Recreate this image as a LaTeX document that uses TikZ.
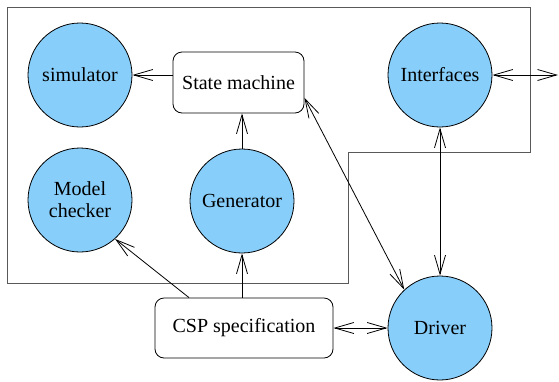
\documentclass[tikz,border=0pt]{standalone}
\usepackage{fontspec}
\setmainfont{Liberation Serif}
\usetikzlibrary{arrows.meta,calc}
\definecolor{skyb}{RGB}{135,206,250}
\begin{document}
\begin{tikzpicture}[x=1pt,y=-1pt,
  font=\fontsize{20}{22}\selectfont,
  proc/.style={circle, draw, fill=skyb, minimum size=104pt, inner sep=0pt, align=center, line width=0.8pt},
  rbox/.style={draw, rounded corners=9pt, line width=0.8pt, inner sep=0pt},
  tipb/.tip={Straight Barb[length=19pt,width=11pt,line width=0.8pt]},
  arr/.style={-tipb, line width=0.8pt},
  darr/.style={tipb-tipb, line width=0.8pt},
  frame/.style={draw=black!65, line width=1pt}]
\useasboundingbox (0,0) rectangle (559,381);
\draw[frame] (7,7) -- (530,7) -- (530,152) -- (348,152) -- (348,283) -- (7,283) -- cycle;

\node[proc] (sim) at (80,75) {simulator};
\node[proc] (mc) at (80,200) {Model\\checker};
\node[proc] (gen) at (242,201) {Generator};
\node[proc] (ifc) at (440,75) {Interfaces};
\node[proc] (dr) at (440,328) {Driver};
\node[rbox, minimum width=131pt, minimum height=61pt] (sm) at (238.5,82.5) {State machine};
\node[rbox, minimum width=178pt, minimum height=60pt] (csp) at (244,328) {CSP specification};
\coordinate (out) at (558,75);

\draw[arr] (sm.west |- sim) -- (sim.east);
\draw[arr] (gen.north) -- (gen.north |- sm.south);
\draw[arr] (gen.south |- csp.north) -- (gen.south);
\draw[arr] (csp.north -| 189,0) -- (mc.-48);
\draw[darr] (sm.-13) -- (dr.133);
\draw[darr] (ifc.south) -- (dr.north);
\draw[darr] (csp.east) -- (dr.west);
\draw[darr] (ifc.east) -- (out);
\end{tikzpicture}
\end{document}
